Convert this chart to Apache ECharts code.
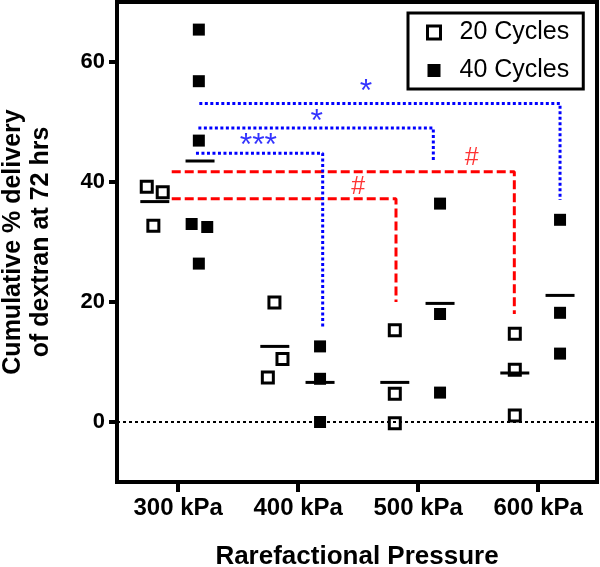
<!DOCTYPE html>
<html><head><meta charset="utf-8">
<script src="https://cdn.jsdelivr.net/npm/echarts@6/dist/echarts.min.js"></script>
<style>html,body{margin:0;padding:0;background:#fff}#c{width:600px;height:567px}</style>
</head><body><div id="c"></div>
<script>
// ---- data ----
const categories = ['300 kPa', '400 kPa', '500 kPa', '600 kPa'];
const seriesNames = ['20 Cycles', '40 Cycles'];
const cycles20 = [[39.2, 38.3, 32.7], [19.9, 10.5, 7.4], [15.3, 4.7, -0.2], [14.7, 8.7, 1.1]];
const cycles40 = [[65.4, 56.8, 46.9, 33.0, 32.5, 26.4], [12.6, 7.2, 0.0], [36.4, 18.0, 4.9], [33.7, 18.2, 11.4]];
const jitter20 = [[-0.067, 0.066, -0.012], [-0.003, 0.064, -0.058], [0, 0, 0], [0, 0, 0]];
const jitter40 = [[-0.01, -0.01, -0.01, -0.07, 0.06, -0.01], [0, 0, 0], [0, 0, 0], [0, 0, 0]];
const yTicks = [0, 20, 40, 60];
// significance brackets (data coords): start x, level, end x, end y
const blueBrackets = [[1.176, 53.1, 4.182, 37.0], [1.168, 49.0, 3.126, 43.6], [1.148, 44.8, 2.204, 15.8]];
const redBrackets = [[0.946, 41.7, 3.801, 18.0], [0.946, 37.2, 2.815, 20.0]];
const blueMarks = [['*', 2.565, 55.0], ['*', 2.154, 50.0], ['***', 1.668, 45.9]];
const redMarks = [['#', 3.446, 44.0], ['#', 2.501, 39.1]];

const OFF20 = -0.195, OFF40 = 0.182;
const FONT = '"Liberation Sans", Arial, sans-serif';

const pts20 = [], pts40 = [], means = [];
categories.forEach((c, i) => {
  cycles20[i].forEach((v, j) => pts20.push([i + 1 + OFF20 + jitter20[i][j], v]));
  cycles40[i].forEach((v, j) => pts40.push([i + 1 + OFF40 + jitter40[i][j], v]));
  const m20 = cycles20[i].reduce((a, b) => a + b, 0) / cycles20[i].length;
  const m40 = cycles40[i].reduce((a, b) => a + b, 0) / cycles40[i].length;
  means.push([i + 1 + OFF20, m20], [i + 1 + OFF40, m40]);
});

function bracketSeries(b, color, type) {
  return {
    type: 'line', silent: true, symbol: 'none', z: 3,
    data: [[b[0], b[1]], [b[2], b[1]], [b[2], b[3]]],
    lineStyle: { color: color, width: 3, type: type, opacity: 1 }
  };
}
function markSeries(marks, color, size) {
  return {
    type: 'scatter', silent: true, symbolSize: 0, z: 6,
    data: marks.map(m => ({ name: m[0], value: [m[1], m[2]] })),
    label: { show: true, position: 'inside', formatter: '{b}', color: color,
      fontSize: size, fontFamily: FONT }
  };
}

const chart = echarts.init(document.getElementById('c'));
chart.setOption({
  animation: false,
  backgroundColor: '#fff',
  grid: { left: 117, top: 2, width: 480, height: 480, show: true, containLabel: false,
    outerBoundsMode: 'none',
    borderColor: '#000', borderWidth: 4, backgroundColor: 'transparent' },
  xAxis: {
    type: 'value', min: 0.49, max: 4.49,
    axisLine: { show: false, onZero: false },
    splitLine: { show: false },
    axisTick: { show: true, customValues: [1, 2, 3, 4], length: 10,
      lineStyle: { color: '#000', width: 4 } },
    axisLabel: { customValues: [1, 2, 3, 4], margin: 14,
      formatter: v => categories[Math.round(v) - 1] || '',
      color: '#000', fontSize: 24, fontWeight: 'bold', fontFamily: FONT },
    name: 'Rarefactional Pressure', nameLocation: 'middle', nameGap: 62,
    nameTextStyle: { color: '#000', fontSize: 26, fontWeight: 'bold', fontFamily: FONT }
  },
  yAxis: {
    type: 'value', min: -10, max: 70,
    axisLine: { show: false, onZero: false },
    splitLine: { show: false },
    axisTick: { show: true, customValues: yTicks, length: 8,
      lineStyle: { color: '#000', width: 4 } },
    axisLabel: { customValues: yTicks, margin: 12,
      color: '#000', fontSize: 22, fontWeight: 'bold', fontFamily: FONT },
    name: 'Cumulative % delivery\nof dextran at 72 hrs', nameLocation: 'middle',
    nameRotate: 90, nameGap: 62,
    nameTextStyle: { color: '#000', fontSize: 25, fontWeight: 'bold', fontFamily: FONT, lineHeight: 28 }
  },
  legend: {
    left: 408, top: 13, orient: 'vertical',
    padding: [7, 14, 6, 18], itemGap: 13, itemWidth: 13, itemHeight: 13,
    borderColor: '#000', borderWidth: 3, selectedMode: false,
    textStyle: { color: '#000', fontSize: 25, fontFamily: FONT, padding: [0, 0, 0, 14] },
    data: [
      { name: seriesNames[0], icon: 'rect',
        itemStyle: { color: 'rgba(0,0,0,0)', borderColor: '#000', borderWidth: 3, opacity: 1 } },
      { name: seriesNames[1], icon: 'rect',
        itemStyle: { color: '#000', borderWidth: 0, opacity: 1 } }
    ]
  },
  series: [
    {
      name: 'zero', type: 'line', silent: true, data: [], z: 1,
      markLine: { silent: true, symbol: 'none', label: { show: false },
        lineStyle: { color: '#000', width: 2, type: [3, 3], opacity: 1 },
        data: [{ yAxis: 0 }] }
    },
    ...redBrackets.map(b => bracketSeries(b, '#ff0000', [9, 4])),
    ...blueBrackets.map(b => bracketSeries(b, '#0000ff', [3, 2.5])),
    markSeries(blueMarks, '#0000ff', 32),
    markSeries(redMarks, '#ff0000', 25),
    {
      name: seriesNames[0], type: 'scatter', data: pts20, symbol: 'rect', symbolSize: 11, z: 5,
      itemStyle: { color: 'rgba(0,0,0,0)', borderColor: '#000', borderWidth: 3, opacity: 1 }
    },
    {
      name: seriesNames[1], type: 'scatter', data: pts40, symbol: 'rect', symbolSize: 12, z: 5,
      itemStyle: { color: '#000', opacity: 1 }
    },
    {
      name: 'mean', type: 'scatter', data: means, symbol: 'rect', symbolSize: [29, 3], z: 5,
      silent: true, itemStyle: { color: '#000', opacity: 1 }
    }
  ]
});
</script>
</body></html>
